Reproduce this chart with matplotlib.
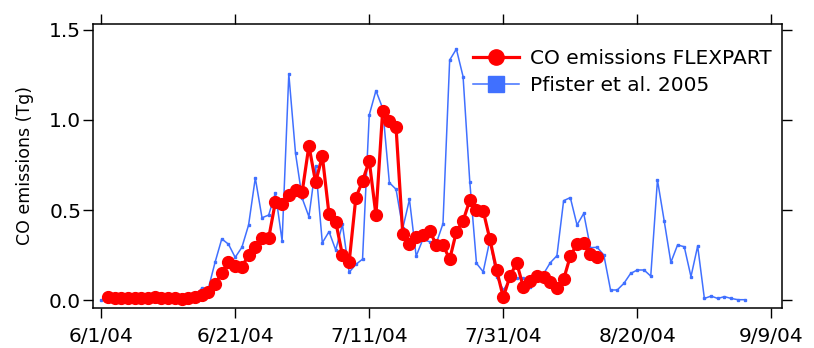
import pandas as pd
import matplotlib
matplotlib.use("Agg")
import matplotlib.pyplot as plt
from matplotlib.ticker import FuncFormatter, FormatStrFormatter
import matplotlib.dates as mdates

# FLEXPART daily emissions, 6/2/04 .. 8/14/04
flexpart_start = "2004-06-02"
flexpart_co = [0.015, 0.013, 0.012, 0.011, 0.012, 0.014, 0.013, 0.015, 0.012, 0.011,
               0.009, 0.008, 0.010, 0.016, 0.028, 0.046, 0.09, 0.15, 0.21, 0.19,
               0.185, 0.25, 0.293, 0.346, 0.344, 0.546, 0.533, 0.583, 0.611, 0.602,
               0.857, 0.654, 0.80, 0.476, 0.435, 0.25, 0.21, 0.568, 0.661, 0.773,
               0.472, 1.05, 0.996, 0.959, 0.367, 0.309, 0.352, 0.361, 0.384, 0.308,
               0.307, 0.226, 0.379, 0.44, 0.554, 0.50, 0.496, 0.337, 0.167, 0.015,
               0.133, 0.207, 0.07, 0.107, 0.133, 0.127, 0.099, 0.066, 0.115, 0.244,
               0.311, 0.315, 0.256, 0.237]

# Pfister et al. 2005 daily emissions, 6/1/04 .. 9/5/04
pfister_start = "2004-06-01"
pfister_co = [0.0, 0.008, 0.01, 0.01, 0.012, 0.01, 0.01, 0.012, 0.011, 0.01,
              0.009, 0.01, 0.012, 0.015, 0.02, 0.065, 0.065, 0.21, 0.34, 0.31,
              0.237, 0.293, 0.417, 0.678, 0.457, 0.472, 0.596, 0.328, 1.256, 0.815,
              0.565, 0.463, 0.744, 0.318, 0.38, 0.278, 0.42, 0.154, 0.198, 0.227,
              1.028, 1.163, 1.065, 0.652, 0.615, 0.398, 0.559, 0.244, 0.337, 0.324,
              0.315, 0.424, 1.333, 1.394, 1.241, 0.657, 0.204, 0.157, 0.333, 0.13,
              0.056, 0.111, 0.12, 0.12, 0.074, 0.12, 0.145, 0.207, 0.246, 0.552,
              0.569, 0.417, 0.481, 0.291, 0.293, 0.25, 0.056, 0.056, 0.093, 0.148,
              0.167, 0.167, 0.133, 0.667, 0.441, 0.209, 0.306, 0.296, 0.13, 0.30,
              0.009, 0.022, 0.009, 0.019, 0.009, 0.002, 0.002]

tick_dates = ["2004-06-01", "2004-06-21", "2004-07-11", "2004-07-31", "2004-08-20", "2004-09-09"]
y_ticks = [0.0, 0.5, 1.0, 1.5]

flex_dates = pd.date_range(flexpart_start, periods=len(flexpart_co), freq="D")
pf_dates = pd.date_range(pfister_start, periods=len(pfister_co), freq="D")

plt.rcParams["font.family"] = "DejaVu Sans"

fig = plt.figure(figsize=(8.14, 3.48), dpi=100)
ax = fig.add_axes([0.1143, 0.115, 0.8464, 0.816])

ax.plot(flex_dates, flexpart_co, color="#ff0000", lw=2.3, marker="o", ms=8.5,
        label="CO emissions FLEXPART", zorder=3)
ax.plot(pf_dates, pfister_co, color="#4070ff", lw=1.1, marker="s", ms=2,
        label="Pfister et al. 2005", zorder=2)

ax.set_xlim(pd.Timestamp("2004-05-30 19:00"), pd.Timestamp("2004-09-10 14:00"))
ax.set_ylim(-0.044, 1.533)


def date_label(v, pos):
    d = mdates.num2date(v)
    return "{}/{}/{}".format(d.month, d.day, d.strftime("%y"))


ax.set_xticks(pd.to_datetime(tick_dates))
ax.xaxis.set_major_formatter(FuncFormatter(date_label))
ax.set_yticks(y_ticks)
ax.yaxis.set_major_formatter(FormatStrFormatter("%.1f"))

ax.tick_params(direction="out", length=7, width=1, labelsize=14.5,
               top=True, right=True, colors="black")
ax.tick_params(axis="x", pad=6.5)
ax.tick_params(axis="y", pad=1.5)
for s in ax.spines.values():
    s.set_linewidth(1.1)

ax.set_ylabel("CO emissions (Tg)", fontsize=12.5, labelpad=11)

leg = ax.legend(loc="upper right", frameon=False, fontsize=14.5, handlelength=2.3,
                handletextpad=0.55, labelspacing=0.42, borderpad=0, borderaxespad=0,
                bbox_to_anchor=(0.985, 0.912))
leg.legend_handles[0].set_markersize(11)
leg.legend_handles[1].set_markersize(11)

fig.savefig("out.png", dpi=100)
